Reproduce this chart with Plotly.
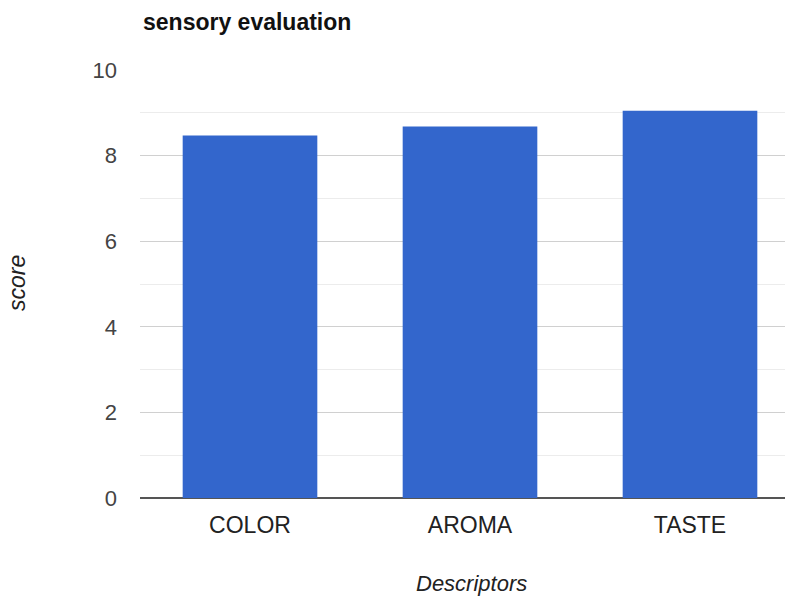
import plotly.graph_objects as go

categories = ["COLOR", "AROMA", "TASTE"]
scores = [8.47, 8.68, 9.05]
y_ticks = [0, 2, 4, 6, 8, 10]

# The page body has an 8px margin; figure is sized so it fills the 793x597 window.
OFF = 8
W, H = 793 - OFF, 597 - OFF
PL, PR, PT, PB = 140, 793, 70, 498  # plot area in page pixels

fig = go.Figure(go.Bar(x=categories, y=scores, marker=dict(color="#3366cc", line=dict(width=0)),
                       width=0.612))

font = "Liberation Sans, Arial, sans-serif"
fig.update_layout(
    width=W, height=H,
    margin=dict(l=PL - OFF, r=0, t=PT - OFF, b=597 - PB, pad=0),
    plot_bgcolor="white", paper_bgcolor="white",
    font=dict(family=font, size=22, color="#444"),
    showlegend=False,
    xaxis=dict(range=[-0.5, -0.5 + (PR - PL) / 220.0], showgrid=False, ticks="",
               tickfont=dict(size=23, color="#222"), ticklabelstandoff=11, showline=False),
    yaxis=dict(range=[0, 10], tickvals=y_ticks, showgrid=True, gridcolor="#d0d0d0", gridwidth=1,
               minor=dict(dtick=1, showgrid=True, gridcolor="#ececec", gridwidth=1),
               zeroline=True, zerolinecolor="#555555", zerolinewidth=2,
               ticks="", ticklabelstandoff=22, tickfont=dict(size=22, color="#444")),
)

pw = PR - PL
ph = PB - PT
def px_x(px):
    return (px - PL) / pw
def px_y(py):
    return (PB - py) / ph

fig.add_annotation(text="<b>sensory evaluation</b>", xref="paper", yref="paper",
                   x=px_x(141), y=px_y(22), xanchor="left", yanchor="middle", showarrow=False,
                   font=dict(size=23, color="#111"))
fig.add_annotation(text="<i>score</i>", xref="paper", yref="paper",
                   x=px_x(17), y=px_y(283), xanchor="center", yanchor="middle", showarrow=False,
                   textangle=-90, font=dict(size=23, color="#222"))
fig.add_annotation(text="<i>Descriptors</i>", xref="paper", yref="paper",
                   x=px_x(471), y=px_y(583), xanchor="center", yanchor="middle", showarrow=False,
                   font=dict(size=22, color="#222"))

fig.write_html("out.html")
